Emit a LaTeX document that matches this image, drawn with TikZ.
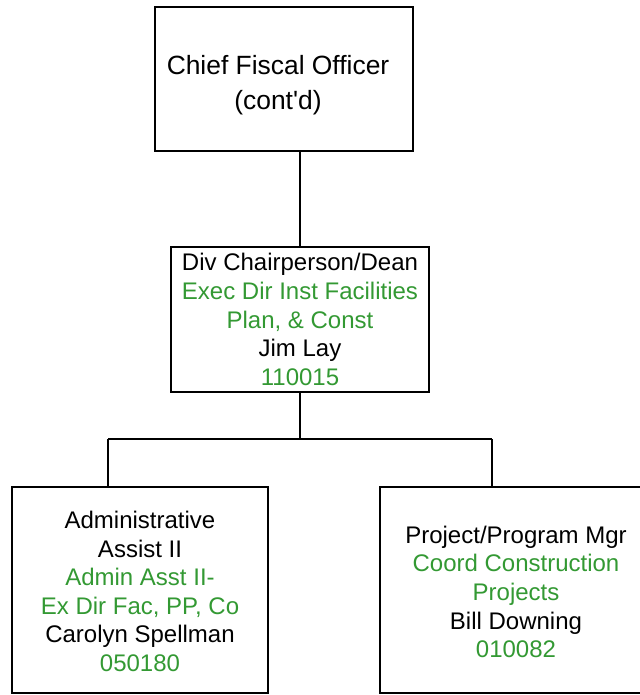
\documentclass[tikz,border=0pt]{standalone}
\usepackage{fontspec}
\setmainfont{Liberation Sans}
\definecolor{posgreen}{RGB}{51,153,51}
\tikzset{
  box/.style={draw=black, line width=2pt, rectangle, inner sep=0pt, fill=none},
  conn/.style={draw=black, line width=2pt},
  txt/.style={align=center, inner sep=0pt, font=\fontsize{24}{28.6}\selectfont},
  toptxt/.style={align=center, inner sep=0pt, font=\fontsize{26.4}{35}\selectfont},
}
\begin{document}
\begin{tikzpicture}[x=1pt,y=-1pt]
\useasboundingbox (0,0) rectangle (639,695);
% boxes
\node[box, minimum width=258pt, minimum height=144pt] (top) at (284,79) {};
\node[box, minimum width=258pt, minimum height=145pt] (mid) at (300,319.5) {};
\node[box, minimum width=256pt, minimum height=206pt] (left) at (140,590) {};
\node[box, minimum width=272pt, minimum height=206pt] (right) at (516,590) {};
% texts
\node[toptxt] (toptext) at (278,85) {Chief Fiscal Officer\\(cont\textquotesingle d)};
\node[txt] (midtext) at (300,319.5) {Div Chairperson/Dean\\\textcolor{posgreen}{Exec Dir Inst Facilities}\\\textcolor{posgreen}{Plan, \& Const}\\Jim Lay\\\textcolor{posgreen}{110015}};
\node[txt] (lefttext) at (140,591.5) {Administrative\\Assist II\\\textcolor{posgreen}{Admin Asst II-}\\\textcolor{posgreen}{Ex Dir Fac, PP, Co}\\Carolyn Spellman\\\textcolor{posgreen}{050180}};
\node[txt] (righttext) at (516,592) {Project/Program Mgr\\\textcolor{posgreen}{Coord Construction}\\\textcolor{posgreen}{Projects}\\Bill Downing\\\textcolor{posgreen}{010082}};
% connectors
\coordinate (jn) at (300,439);
\coordinate (jl) at (108,439);
\coordinate (jr) at (492,439);
\draw[conn] (mid.north |- top.south) -- (mid.north);
\draw[conn] (mid.south) -- (jn);
\draw[conn] (jl) -- (jr);
\draw[conn] (jl) -- (jl |- left.north);
\draw[conn] (jr) -- (jr |- right.north);
\end{tikzpicture}
\end{document}
